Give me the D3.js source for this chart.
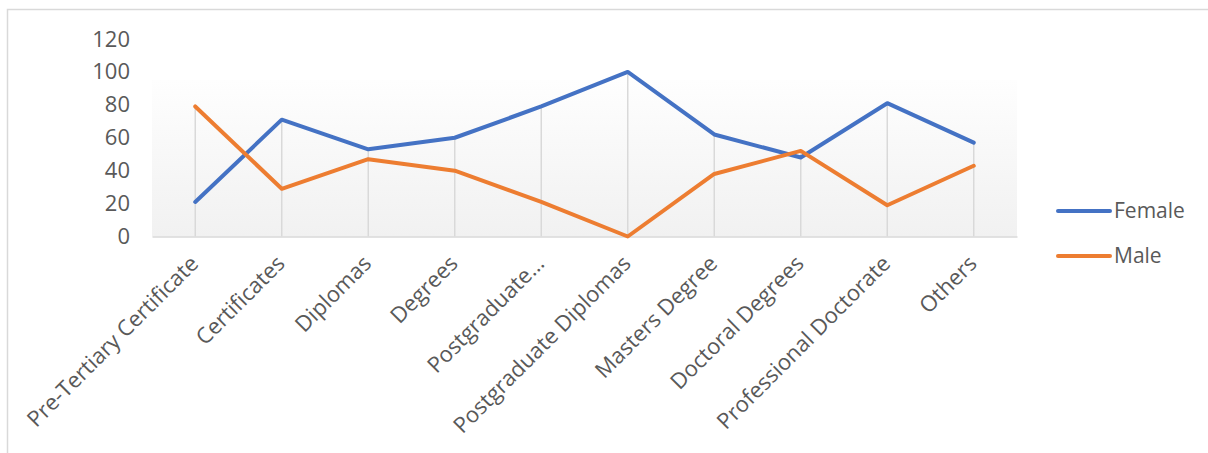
<!DOCTYPE html>
<html>
<head>
<meta charset="utf-8">
<script src="https://cdn.jsdelivr.net/npm/d3@7/dist/d3.min.js"></script>
<style>
  html, body { margin: 0; padding: 0; background: #fff; }
  svg { display: block; }
  text { font-family: "Open Sans", "Noto Sans", sans-serif; fill: #595959; }
</style>
</head>
<body>
<svg id="chart" width="1208" height="453"></svg>
<script>
const categories = ["Pre-Tertiary Certificate", "Certificates", "Diplomas", "Degrees", "Postgraduate…",
  "Postgraduate Diplomas", "Masters Degree", "Doctoral Degrees", "Professional Doctorate", "Others"];
const female = [21, 71, 53, 60, 79, 100, 62, 48, 81, 57];
const male = [79, 29, 47, 40, 21, 0, 38, 52, 19, 43];
const yTicks = [0, 20, 40, 60, 80, 100, 120];
const seriesNames = ["Female", "Male"];
const seriesColors = ["#4472C4", "#ED7D31"];

(function () {
const svg = d3.select("#chart");

// outer chart border
svg.append("rect").attr("x", 7.5).attr("y", 9.5).attr("width", 1220).attr("height", 460)
  .attr("fill", "#fff").attr("stroke", "#d9d9d9").attr("stroke-width", 1.5);

const pLeft = 152, pRight = 1017, pTop = 39, pBottom = 236.5;
const x = d3.scaleBand().domain(categories).range([pLeft, pRight]);
const y = d3.scaleLinear().domain([0, 120]).range([pBottom, pTop]);

// gradient plot background
const defs = svg.append("defs");
const grad = defs.append("linearGradient").attr("id", "bg").attr("x1", 0).attr("y1", 0).attr("x2", 0).attr("y2", 1);
grad.append("stop").attr("offset", "0%").attr("stop-color", "#fefefe");
grad.append("stop").attr("offset", "100%").attr("stop-color", "#f1f1f1");
svg.append("rect").attr("x", pLeft).attr("y", 80).attr("width", pRight - pLeft).attr("height", pBottom - 80)
  .attr("fill", "url(#bg)");

// y axis labels
const yAxis = d3.axisLeft(y).tickValues(yTicks).tickSize(0).tickPadding(0);
const yg = svg.append("g").attr("transform", `translate(130,0)`).call(yAxis);
yg.select(".domain").remove();
yg.selectAll("text").style("font-size", "22px").attr("fill", "#595959")
  .style("font-family", "'Open Sans', sans-serif");

// drop lines
const cx = d => x(d) + x.bandwidth() / 2;
svg.append("g").selectAll("line").data(categories).join("line")
  .attr("x1", cx).attr("x2", cx)
  .attr("y1", (d, i) => y(Math.max(female[i], male[i])))
  .attr("y2", pBottom)
  .attr("stroke", "#d9d9d9").attr("stroke-width", 1.5);

// x axis
const xAxis = d3.axisBottom(x).tickSize(0).tickPadding(0);
const xg = svg.append("g").attr("transform", `translate(0,${pBottom})`).call(xAxis);
xg.select(".domain").attr("stroke", "#d9d9d9").attr("stroke-width", 1.5);
xg.selectAll("text")
  .style("font-size", "22px").attr("fill", "#595959")
  .style("font-family", "'Open Sans', sans-serif")
  .attr("text-anchor", "end")
  .attr("dy", "0.35em")
  .attr("y", 0)
  .attr("transform", "translate(-1,23) rotate(-45)");

// lines
const line = d3.line().x((d, i) => cx(categories[i])).y(d => y(d));
[female, male].forEach((vals, k) => {
  svg.append("path").datum(vals).attr("d", line)
    .attr("fill", "none").attr("stroke", seriesColors[k]).attr("stroke-width", 4)
    .attr("stroke-linejoin", "round").attr("stroke-linecap", "round");
});

// legend
const legendY = d3.scalePoint().domain(seriesNames).range([211, 256]);
const lg = svg.append("g");
seriesNames.forEach((s, k) => {
  lg.append("line").attr("x1", 1058).attr("x2", 1110).attr("y1", legendY(s)).attr("y2", legendY(s))
    .attr("stroke", seriesColors[k]).attr("stroke-width", 4).attr("stroke-linecap", "round");
  lg.append("text").attr("x", 1114).attr("y", legendY(s)).attr("dy", "0.35em")
    .style("font-size", "21px").text(s);
});
})();
</script>
</body>
</html>
